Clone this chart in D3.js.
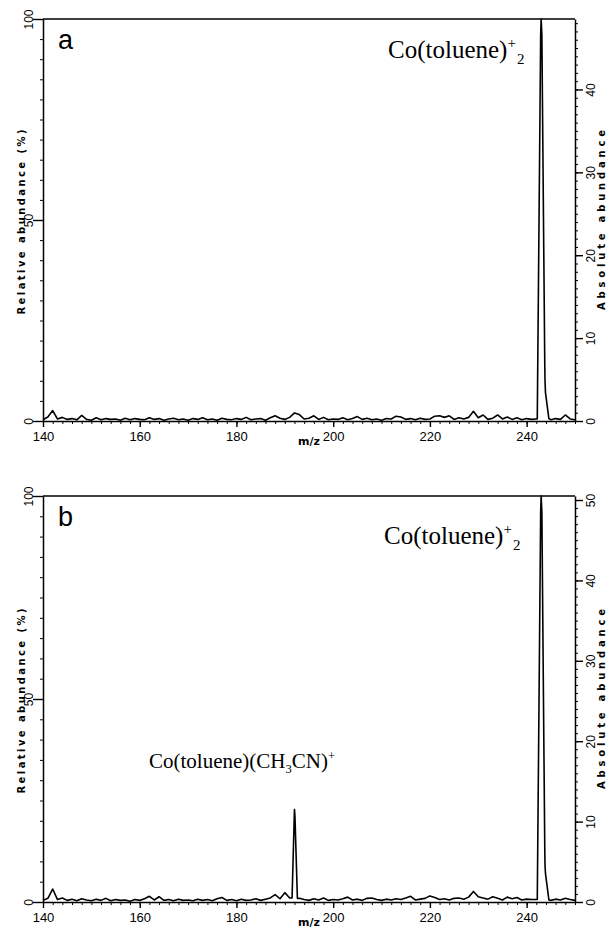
<!DOCTYPE html>
<html>
<head>
<meta charset="utf-8">
<script src="https://cdn.jsdelivr.net/npm/d3@7/dist/d3.min.js"></script>
<style>
  body { margin: 0; background: #fff; }
  svg { display: block; }
  .tick text { font-family: "Liberation Sans", Arial, sans-serif; }
</style>
</head>
<body>
<div id="chart"></div>
<script>
// m/z grid starts at 140, one value per unit
var mzStart = 140;

// panel a baseline noise, relative abundance (%), m/z 140..250
var noiseA = [0.3,1.0,2.6,0.5,0.9,0.4,0.6,0.3,1.4,0.4,
              0.2,0.8,0.3,0.6,0.4,0.5,0.2,0.7,0.3,0.6,
              0.4,0.3,0.8,0.4,0.6,0.2,0.5,0.7,0.3,0.5,
              0.2,0.6,0.4,0.8,0.3,0.5,0.2,0.7,0.4,0.3,
              0.6,0.4,0.9,0.3,0.5,0.6,0.2,0.8,1.3,0.7,
              0.4,0.9,2.0,1.6,0.5,0.7,1.3,0.4,0.9,0.3,
              0.5,0.4,0.8,0.3,0.6,1.1,0.4,0.7,0.3,0.5,
              0.2,0.6,0.5,1.2,1.0,0.4,0.6,0.3,0.7,0.4,
              0.5,1.2,1.3,0.9,1.3,0.4,0.8,0.5,0.9,2.4,
              0.8,1.5,0.4,0.7,1.5,0.5,1.0,0.4,0.8,0.3,
              0.6,0.4,0.5,0.0,0.0,0.3,0.6,0.4,1.5,0.5,
              0.3];
// panel a: Co(toluene)2+ peak at m/z 243 with 244 shoulder
var peakAmz  = [242.2, 242.9, 243.0, 243.15, 243.75, 243.8, 243.9, 244.6];
var peakAval = [0.5,   96,    100,   96,     14,     10,    7,     0.6];

// panel b baseline noise, m/z 140..250
var noiseB = [0.4,0.9,3.2,0.6,1.0,0.4,0.7,0.3,0.8,0.5,
              0.3,0.7,0.4,0.9,0.3,0.6,0.4,0.5,0.2,0.6,
              0.4,0.8,1.4,0.5,1.3,0.4,0.6,0.3,0.7,0.4,
              0.5,0.3,0.7,0.4,0.6,0.3,0.8,1.1,0.4,0.6,
              0.3,0.7,0.4,0.5,0.8,0.4,0.7,1.0,1.8,0.8,
              2.3,1.0,0.0,0.9,0.6,0.4,0.8,0.5,1.0,0.4,
              0.6,0.5,0.8,1.2,0.5,0.7,0.4,0.9,1.0,0.6,
              0.4,0.7,0.5,0.8,0.6,1.0,1.4,0.5,0.7,0.9,
              1.5,1.1,0.6,0.8,0.5,0.9,1.0,0.7,1.2,2.6,
              1.3,1.0,0.7,1.3,0.9,0.5,1.2,0.8,1.1,0.5,
              0.7,0.6,0.6,0.0,0.0,0.4,0.7,0.5,0.9,0.6,
              0.4];
// panel b: Co(toluene)(CH3CN)+ at 192 and Co(toluene)2+ at 243
var peakB1mz  = [191.5, 191.95, 192.0, 192.1, 192.6];
var peakB1val = [1.0,   21,     22.8,  21,    0.9];
var peakB2mz  = [242.2, 242.9, 243.0, 243.15, 243.75, 243.8, 243.9, 244.6];
var peakB2val = [0.6,   96,    100,   96,     13,     9,     7,     0.5];

// axis ticks
var mzMajor = [140, 160, 180, 200, 220, 240];
var relMajor = [0, 50, 100];
var absMaxA = 48.5, absMajorA = [0, 10, 20, 30, 40];
var absMaxB = 50.5, absMajorB = [0, 10, 20, 30, 40, 50];

var width = 607, height = 928;
var left = 43, right = 575;

var svg = d3.select('#chart').append('svg')
    .attr('width', width)
    .attr('height', height);

function buildSeries(noise, peaks){
    var pts = noise.map(function(v, i){ return [mzStart + i, v]; });
    peaks.forEach(function(p){
        var lo = d3.min(p[0]), hi = d3.max(p[0]);
        pts = pts.filter(function(d){ return d[0] < lo || d[0] > hi; });
        p[0].forEach(function(m, i){ pts.push([m, p[1][i]]); });
    });
    pts.sort(function(a, b){ return a[0] - b[0]; });
    return pts;
}

function rotateLabels(axisG, dx){
    axisG.selectAll('.tick text')
        .attr('x', null)
        .attr('y', null)
        .attr('dy', '0.35em')
        .attr('text-anchor', 'middle')
        .attr('transform', 'translate(' + dx + ',0) rotate(-90)');
}

function drawPanel(cfg){
    var g = svg.append('g');
    var x = d3.scaleLinear().domain([140, 250]).range([left, right]);
    var y = d3.scaleLinear().domain([0, 100]).range([cfg.bottom, cfg.top]);
    var yAbs = d3.scaleLinear().domain([0, cfg.absMax]).range([cfg.bottom, cfg.top]);

    // frame top
    g.append('line')
        .attr('x1', left).attr('x2', right)
        .attr('y1', cfg.top).attr('y2', cfg.top)
        .attr('stroke', '#000').attr('stroke-width', 1.4);

    // left axis: minor ticks every 5 %
    g.append('g')
        .attr('transform', 'translate(' + left + ',0)')
        .call(d3.axisLeft(y).tickValues(d3.range(0, 101, 5)).tickSize(3).tickSizeOuter(0).tickFormat(''))
        .call(function(a){ a.select('.domain').attr('stroke-width', 1.5); });
    var lMaj = g.append('g')
        .attr('transform', 'translate(' + left + ',0)')
        .call(d3.axisLeft(y).tickValues(relMajor).tickSize(10).tickSizeOuter(0))
        .call(function(a){ a.select('.domain').remove(); })
        .attr('font-size', 12);
    lMaj.selectAll('.tick line').attr('stroke-width', 1.4);
    rotateLabels(lMaj, -14);

    // right axis: absolute abundance
    g.append('g')
        .attr('transform', 'translate(' + right + ',0)')
        .call(d3.axisRight(yAbs).tickValues(d3.range(0, cfg.absMax, 1)).tickSize(3).tickSizeOuter(0).tickFormat(''))
        .call(function(a){ a.select('.domain').attr('stroke-width', 1.5); });
    var rMaj = g.append('g')
        .attr('transform', 'translate(' + right + ',0)')
        .call(d3.axisRight(yAbs).tickValues(cfg.absMajor).tickSize(8).tickSizeOuter(0))
        .call(function(a){ a.select('.domain').remove(); })
        .attr('font-size', 12);
    rMaj.selectAll('.tick line').attr('stroke-width', 1.4);
    rotateLabels(rMaj, 16);

    // bottom axis
    g.append('g')
        .attr('transform', 'translate(0,' + cfg.bottom + ')')
        .call(d3.axisBottom(x).tickValues(d3.range(140, 251, 2)).tickSize(3).tickSizeOuter(0).tickFormat(''))
        .call(function(a){ a.select('.domain').attr('stroke-width', 1.7); });
    var bMaj = g.append('g')
        .attr('transform', 'translate(0,' + cfg.bottom + ')')
        .call(d3.axisBottom(x).tickValues(mzMajor).tickSize(6).tickPadding(5))
        .call(function(a){ a.select('.domain').remove(); })
        .attr('font-size', 13);
    bMaj.selectAll('.tick line').attr('stroke-width', 1.4);

    // spectrum trace
    var line = d3.line()
        .x(function(d){ return x(d[0]); })
        .y(function(d){ return y(d[1]); });
    g.append('path')
        .datum(cfg.data)
        .attr('d', line)
        .attr('fill', 'none')
        .attr('stroke', '#000')
        .attr('stroke-width', 1.6)
        .attr('stroke-linejoin', 'round');

    // axis titles
    var mid = (cfg.top + cfg.bottom) / 2;
    g.append('text')
        .attr('transform', 'translate(21,' + (mid + 2) + ') rotate(-90)')
        .attr('text-anchor', 'middle')
        .attr('dy', '0.35em')
        .attr('font-family', 'DejaVu Sans, sans-serif')
        .attr('font-weight', 'bold')
        .attr('font-size', 10)
        .attr('textLength', 185)
        .attr('lengthAdjust', 'spacing')
        .text('Relative abundance (%)');
    g.append('text')
        .attr('transform', 'translate(601,' + mid + ') rotate(-90)')
        .attr('text-anchor', 'middle')
        .attr('dy', '0.35em')
        .attr('font-family', 'DejaVu Sans, sans-serif')
        .attr('font-weight', 'bold')
        .attr('font-size', 10)
        .attr('textLength', 180)
        .attr('lengthAdjust', 'spacing')
        .text('Absolute abundance');
    g.append('text')
        .attr('x', 320).attr('y', cfg.bottom + 24)
        .attr('text-anchor', 'end')
        .attr('font-family', 'DejaVu Sans, sans-serif')
        .attr('font-weight', 'bold')
        .attr('font-size', 11)
        .text('m/z');

    // panel letter
    g.append('text')
        .attr('x', 58).attr('y', cfg.top + 30)
        .attr('font-family', 'Liberation Sans, Arial, sans-serif')
        .attr('font-size', 27)
        .text(cfg.letter);

    // peak annotations
    cfg.notes.forEach(function(n){
        var t = g.append('text')
            .attr('x', n.x).attr('y', n.y)
            .attr('text-anchor', n.anchor)
            .attr('font-family', 'Liberation Serif, Times New Roman, serif')
            .attr('font-size', n.size);
        n.parts.forEach(function(p){
            var s = t.append('tspan').text(p[0]);
            if (p[1] === 'sup') s.attr('font-size', n.size * 0.6).attr('dy', -n.size * 0.4);
            if (p[1] === 'sub') s.attr('font-size', n.size * 0.6).attr('dy', n.size * 0.25);
            if (p[1] === 'subAfterSup') s.attr('font-size', n.size * 0.6).attr('dy', n.size * 0.65).attr('dx', 1);
            if (p[1] === 'back') s.attr('dy', -n.size * 0.25);
        });
    });
}

drawPanel({
    letter: 'a', top: 19, bottom: 421,
    absMax: absMaxA, absMajor: absMajorA,
    data: buildSeries(noiseA, [[peakAmz, peakAval]]),
    notes: [
        {x: 388, y: 58, anchor: 'start', size: 25,
         parts: [['Co(toluene)'], ['+', 'sup'], ['2', 'subAfterSup']]}
    ]
});

drawPanel({
    letter: 'b', top: 496, bottom: 902,
    absMax: absMaxB, absMajor: absMajorB,
    data: buildSeries(noiseB, [[peakB1mz, peakB1val], [peakB2mz, peakB2val]]),
    notes: [
        {x: 384, y: 544, anchor: 'start', size: 25,
         parts: [['Co(toluene)'], ['+', 'sup'], ['2', 'subAfterSup']]},
        {x: 242, y: 768, anchor: 'middle', size: 21,
         parts: [['Co(toluene)(CH'], ['3', 'sub'], ['CN)', 'back'], ['+', 'sup']]}
    ]
});
</script>
</body>
</html>
